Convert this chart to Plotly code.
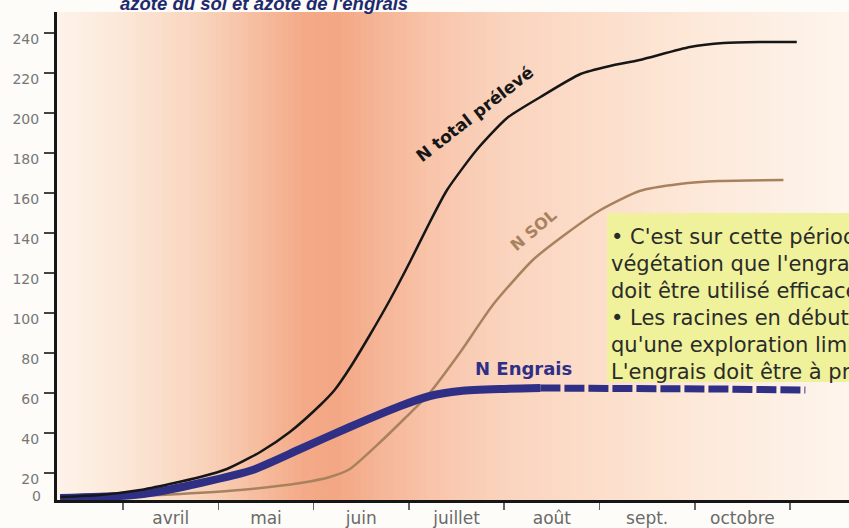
import plotly.graph_objects as go

# ---------------- data (months: 4 = 1 April ... 11 = 1 November) ----------------
months = ["avril", "mai", "juin", "juillet", "août", "sept.", "octobre"]
month_bounds = [4, 5, 6, 7, 8, 9, 10, 11]
month_centers = [4.5, 5.5, 6.5, 7.5, 8.5, 9.5, 10.5]
y_ticks = [20, 40, 60, 80, 100, 120, 140, 160, 180, 200, 220, 240]

total_x = [3.34, 3.76, 4.18, 4.49, 4.81, 5.09, 5.44, 5.75, 6.07, 6.22, 6.38, 6.59, 6.80,
           7.01, 7.22, 7.40, 7.71, 8.03, 8.38, 8.80, 9.11, 9.42, 9.95, 10.30, 10.68, 11.07]
total_y = [8, 9, 11.5, 14.5, 18, 22, 30.5, 40.5, 54, 61.5, 72.5, 89, 106.5,
           125.5, 145.5, 161.5, 181.5, 197.5, 208, 219.5, 223.5, 226.5, 233, 235, 235.5, 235.5]

sol_x = [3.34, 3.97, 4.60, 5.23, 5.86, 6.17, 6.38, 6.70, 6.96, 7.20, 7.54, 7.88, 8.30,
         8.66, 9.01, 9.42, 9.84, 10.26, 10.93]
sol_y = [7, 8, 9.5, 11.5, 15, 18, 22, 35.5, 47.5, 59, 80.5, 104, 126.5,
         140, 151.5, 161, 164.5, 166, 166.5]

engrais_x = [3.34, 3.97, 4.28, 4.81, 5.36, 5.86, 6.38, 6.91, 7.22, 7.54, 7.96, 8.38,
             8.80, 9.53, 10.26, 11.16]
engrais_y = [7.5, 8.5, 10, 15, 21.5, 32, 43, 53.5, 58.5, 61, 62, 62.5,
             62.5, 62.5, 62, 61.5]
engrais_solid_end = 12  # points after this index are drawn dashed

box_lines = ["• C'est sur cette période de",
             "végétation que l'engrais",
             "doit être utilisé efficacement.",
             "• Les racines en début de cycle",
             "qu'une exploration limitée.",
             "L'engrais doit être à proximité"]

# ---------------- style ----------------
W, H = 849, 528
ML, MR, MT, MB = 57, 0, 12, 28
X0, X1 = 3.307, 11.618
Y0, Y1 = 6.5, 250.5
BLACK = "#161616"
NAVY = "#2f2f86"
BROWN = "#a8825e"
FONT = "DejaVu Sans"

grad_stops = [(57, (253, 243, 234)), (120, (252, 232, 216)), (200, (249, 212, 189)),
              (260, (246, 188, 158)), (300, (244, 171, 137)), (335, (243, 166, 131)),
              (380, (246, 181, 151)), (430, (248, 196, 170)), (500, (250, 211, 189)),
              (600, (252, 222, 203)), (700, (253, 233, 218)), (800, (253, 241, 231)),
              (849, (254, 245, 236))]


def interp_color(px):
    for (a, ca), (b, cb) in zip(grad_stops[:-1], grad_stops[1:]):
        if a <= px <= b:
            t = (px - a) / (b - a)
            return "rgb(%d,%d,%d)" % tuple(round(ca[i] + (cb[i] - ca[i]) * t) for i in range(3))
    return "rgb(%d,%d,%d)" % grad_stops[-1][1]


shapes = []
n = 120
for i in range(n):
    pa = 57 + (849 - 57) * i / n
    pb = 57 + (849 - 57) * (i + 1) / n
    shapes.append(dict(type="rect", xref="paper", yref="paper",
                       x0=(pa - 57) / 792, x1=(pb - 57) / 792 + 0.002, y0=0, y1=1,
                       fillcolor=interp_color((pa + pb) / 2), line=dict(width=0), layer="below"))

# yellow text box
shapes.append(dict(type="rect", xref="x", yref="y", x0=9.08, x1=12.5, y0=65.5, y1=150,
                   fillcolor="#eff29a", line=dict(width=0), layer="below"))

fig = go.Figure()
fig.add_trace(go.Scatter(x=sol_x, y=sol_y, mode="lines",
                         line=dict(color=BROWN, width=2.5, shape="spline", smoothing=0.6),
                         hoverinfo="skip", showlegend=False))
fig.add_trace(go.Scatter(x=engrais_x[:engrais_solid_end], y=engrais_y[:engrais_solid_end],
                         mode="lines",
                         line=dict(color=NAVY, width=8, shape="spline", smoothing=0.6),
                         hoverinfo="skip", showlegend=False))
fig.add_trace(go.Scatter(x=engrais_x[engrais_solid_end - 1:], y=engrais_y[engrais_solid_end - 1:],
                         mode="lines",
                         line=dict(color=NAVY, width=7, dash="20px,4px"),
                         hoverinfo="skip", showlegend=False))
fig.add_trace(go.Scatter(x=total_x, y=total_y, mode="lines",
                         line=dict(color=BLACK, width=2.5, shape="spline", smoothing=0.6),
                         hoverinfo="skip", showlegend=False))

annotations = [
    dict(text="<b>N total prélevé</b>", x=7.69, y=199.5, xref="x", yref="y",
         showarrow=False, textangle=-38, font=dict(family=FONT, size=17, color=BLACK)),
    dict(text="<b>N SOL</b>", x=8.30, y=141.5, xref="x", yref="y",
         showarrow=False, textangle=-40, font=dict(family=FONT, size=16, color=BROWN)),
    dict(text="<b>N Engrais</b>", x=8.20, y=72.5, xref="x", yref="y",
         showarrow=False, font=dict(family=FONT, size=18, color=NAVY)),
    dict(text="0", x=0, xref="paper", xanchor="right", xshift=-14, y=Y0, yref="y",
         yshift=4, showarrow=False, font=dict(family=FONT, size=14, color="#777")),
    dict(text="<b><i>azote du sol et azote de l'engrais</i></b>",
         xref="paper", yref="paper", x=(118 - 57) / 792, xanchor="left",
         y=1 + (12 - 4) / 488, yanchor="middle", showarrow=False,
         font=dict(family="Liberation Sans", size=18.5, color="#1d2a6e")),
]

for k, line in enumerate(box_lines):
    annotations.append(dict(text=line, x=9.10, xref="x", xanchor="left",
                            y=(513 - (237 + k * 27)) / 2, yref="y", yanchor="middle",
                            showarrow=False, font=dict(family=FONT, size=21, color="#2b2b2b")))

fig.update_layout(
    width=W, height=H,
    margin=dict(l=ML, r=MR, t=MT, b=MB),
    paper_bgcolor="#fdfcf8",
    plot_bgcolor="rgba(0,0,0,0)",
    shapes=shapes,
    annotations=annotations,
    xaxis=dict(range=[X0, X1], showgrid=False, zeroline=False,
               showline=True, linecolor=BLACK, linewidth=3,
               tickmode="array", tickvals=month_centers, ticktext=months, ticks="",
               ticklabelstandoff=1,
               tickfont=dict(family=FONT, size=17, color="#6a6a6a"),
               minor=dict(tickmode="array", tickvals=month_bounds, ticks="outside",
                          ticklen=7, tickwidth=1.5, tickcolor="#666", showgrid=False)),
    yaxis=dict(range=[Y0, Y1], showgrid=False, zeroline=False,
               showline=True, linecolor=BLACK, linewidth=3,
               tickmode="array", tickvals=y_ticks, ticktext=[str(v) for v in y_ticks],
               ticks="outside", ticklen=10, tickwidth=1.5, tickcolor="#444",
               ticklabelshift=6, ticklabelstandoff=2,
               tickfont=dict(family=FONT, size=14, color="#777")),
)

fig.write_html("out.html",
               config={"displayModeBar": False, "staticPlot": True},
               post_script="document.body.style.margin='0';"
                           "document.body.style.overflow='hidden';")
